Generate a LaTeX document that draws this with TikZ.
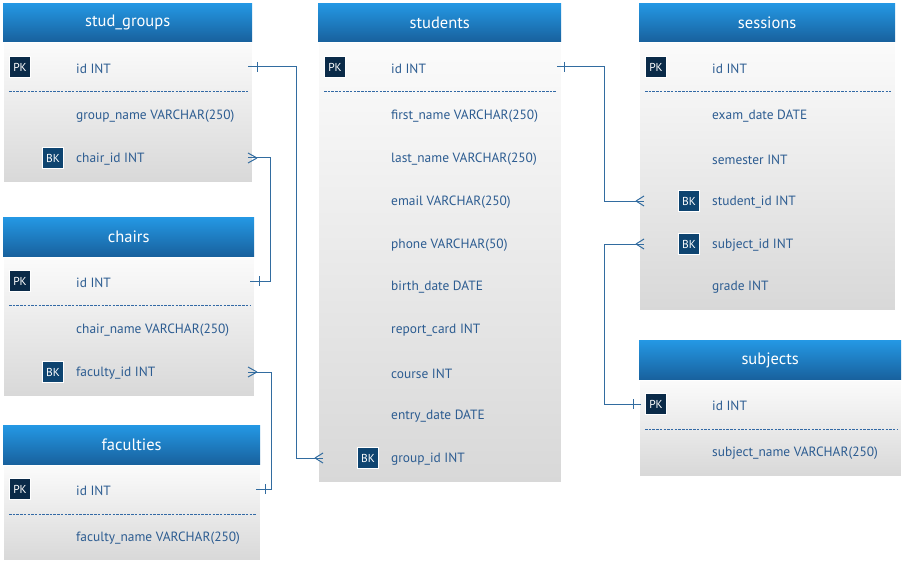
\documentclass[tikz,border=0pt]{standalone}
\usepackage{fontspec}
\setmainfont{PT Sans}
\definecolor{hdtop}{RGB}{36,152,228}
\definecolor{hdbot}{RGB}{24,96,156}
\definecolor{bdtop}{RGB}{251,251,251}
\definecolor{bdbot}{RGB}{216,216,216}
\definecolor{fieldc}{RGB}{44,92,145}
\definecolor{pkc}{RGB}{10,42,72}
\definecolor{bkc}{RGB}{14,68,112}
\definecolor{linec}{RGB}{50,108,160}
\definecolor{dashc}{RGB}{50,105,165}
\tikzset{
  hdr/.style={draw=none, inner sep=0pt, top color=hdtop, bottom color=hdbot, text=white, font=\fontsize{16.5}{18}\selectfont},
  bdy/.style={draw=white, line width=0.8pt, inner sep=0pt, top color=bdtop, bottom color=bdbot},
  field/.style={inner sep=0pt, text=fieldc, font=\fontsize{13.4}{15}\selectfont},
  badge/.style={draw=white, line width=1.8pt, minimum size=21pt, inner sep=0pt, text=white, font=\fontsize{11.5}{13}\selectfont},
  pkbadge/.style={badge, fill=pkc},
  bkbadge/.style={badge, fill=bkc},
  sep/.style={draw=dashc, line width=0.8pt, dash pattern=on 2.5pt off 1.2pt},
  conn/.style={draw=linec, line width=1pt},
}
% #1 name, #2 title, #3 left, #4 right, #5 top, #6 header bottom, #7 bottom
\newcommand\ertable[7]{%
  \node[hdr, anchor=north west, minimum width={#4pt-#3pt}, minimum height={#6pt-#5pt}] (#1-h) at (#3,#5) {#2};
  \node[bdy, anchor=north west, minimum width={#4pt-#3pt}, minimum height={#7pt-#6pt}] (#1-b) at (#3,#6) {};
}
% #1 name, #2 table left, #3 y, #4 text
\newcommand\errow[4]{%
  \node[field, anchor=west] (#1) at (#2+73,#3+1.5) {#4};
}
\newcommand\erpk[3]{\node[pkbadge] (#1-pk) at (#2+17,#3) {PK};}
\newcommand\erbk[3]{\node[bkbadge] (#1-bk) at (#2+50,#3) {BK};}
% #1 left, #2 right, #3 y
\newcommand\ersep[3]{\draw[sep] (#1+6,#3) -- (#2-4,#3);}
\begin{document}
\begin{tikzpicture}[x=1pt, y=-1pt]
\fill[white] (0,0) rectangle (904,564);
\useasboundingbox (0,0) rectangle (904,564);

% stud_groups
\ertable{sg}{stud\_groups}{3}{252}{3}{42}{182}
\erpk{sgid}{3}{67}\errow{sgid}{3}{67}{id INT}
\ersep{3}{252}{91}
\errow{sgname}{3}{115}{group\_name VARCHAR(250)}
\erbk{sgchair}{3}{158}\errow{sgchair}{3}{158}{chair\_id INT}

% chairs
\ertable{ch}{chairs}{3}{254}{217}{257}{396}
\erpk{chid}{3}{281}\errow{chid}{3}{281}{id INT}
\ersep{3}{254}{305}
\errow{chname}{3}{329}{chair\_name VARCHAR(250)}
\erbk{chfac}{3}{372}\errow{chfac}{3}{372}{faculty\_id INT}

% faculties
\ertable{fa}{faculties}{3}{260}{425}{465}{560}
\erpk{faid}{3}{489}\errow{faid}{3}{489}{id INT}
\ersep{3}{260}{514}
\errow{faname}{3}{537}{faculty\_name VARCHAR(250)}

% students
\ertable{st}{students}{318}{561}{3}{42}{482}
\erpk{stid}{318}{67}\errow{stid}{318}{67}{id INT}
\ersep{318}{561}{91}
\errow{stfirst}{318}{115}{first\_name VARCHAR(250)}
\errow{stlast}{318}{158}{last\_name VARCHAR(250)}
\errow{stemail}{318}{201}{email VARCHAR(250)}
\errow{stphone}{318}{244}{phone VARCHAR(50)}
\errow{stbirth}{318}{286}{birth\_date DATE}
\errow{streport}{318}{329}{report\_card INT}
\errow{stcourse}{318}{372}{course INT}
\errow{stentry}{318}{415}{entry\_date DATE}
\erbk{stgid}{318}{458}\errow{stgid}{318}{458}{group\_id INT}

% sessions
\ertable{se}{sessions}{639}{895}{3}{42}{310}
\erpk{seid}{639}{67}\errow{seid}{639}{67}{id INT}
\ersep{639}{895}{91}
\errow{seexam}{639}{115}{exam\_date DATE}
\errow{sesem}{639}{158}{semester INT}
\erbk{sestu}{639}{201}\errow{sestu}{639}{201}{student\_id INT}
\erbk{sesub}{639}{244}\errow{sesub}{639}{244}{subject\_id INT}
\errow{segrade}{639}{286}{grade INT}

% subjects
\ertable{su}{subjects}{639}{901}{340}{380}{476}
\erpk{suid}{639}{404}\errow{suid}{639}{404}{id INT}
\ersep{639}{901}{429}
\errow{suname}{639}{452}{subject\_name VARCHAR(250)}

% connector end points
\coordinate (p-sgid) at (248,67);
\coordinate (p-stgid) at (323,458);
\coordinate (p-sgchair) at (248,158);
\coordinate (p-chid) at (250,281);
\coordinate (p-chfac) at (248,372);
\coordinate (p-faid) at (256,489);
\coordinate (p-stid) at (557,67);
\coordinate (p-sestu) at (644,201);
\coordinate (p-suid) at (641,404);
\coordinate (p-sesub) at (644,244);

% C1: stud_groups.id -> students.group_id
\draw[conn] (p-sgid) -- ++(48,0) |- (p-stgid);
\draw[conn] ([xshift=9]p-sgid) ++(0,-5) -- ++(0,10);
\draw[conn] ([xshift=-8]p-stgid) -- ++(8,-5) ([xshift=-8]p-stgid) -- ++(8,5);

% C2: stud_groups.chair_id -> chairs.id
\draw[conn] (p-sgchair) -- ++(22,0) |- (p-chid);
\draw[conn] ([xshift=9]p-sgchair) -- ++(-9,-5) ([xshift=9]p-sgchair) -- ++(-9,5);
\draw[conn] ([xshift=9]p-chid) ++(0,-5) -- ++(0,10);

% C3: chairs.faculty_id -> faculties.id
\draw[conn] (p-chfac) -- ++(23,0) |- (p-faid);
\draw[conn] ([xshift=9]p-chfac) -- ++(-9,-5) ([xshift=9]p-chfac) -- ++(-9,5);
\draw[conn] ([xshift=9]p-faid) ++(0,-5) -- ++(0,10);

% C4: students.id -> sessions.student_id
\draw[conn] (p-stid) -- ++(47,0) |- (p-sestu);
\draw[conn] ([xshift=7]p-stid) ++(0,-5) -- ++(0,10);
\draw[conn] ([xshift=-8]p-sestu) -- ++(8,-5) ([xshift=-8]p-sestu) -- ++(8,5);

% C5: subjects.id -> sessions.subject_id
\draw[conn] (p-suid) -- ++(-37,0) |- (p-sesub);
\draw[conn] ([xshift=-8]p-suid) ++(0,-5) -- ++(0,10);
\draw[conn] ([xshift=-8]p-sesub) -- ++(8,-5) ([xshift=-8]p-sesub) -- ++(8,5);
\end{tikzpicture}
\end{document}
